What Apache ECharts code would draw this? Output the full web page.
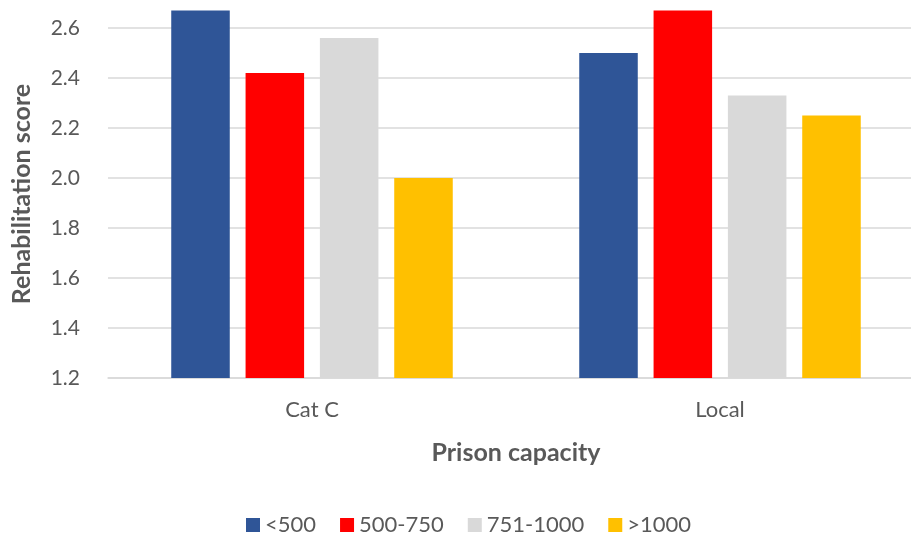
<!DOCTYPE html>
<html>
<head>
<meta charset="utf-8">
<script src="https://cdn.jsdelivr.net/npm/echarts@6/dist/echarts.min.js"></script>
<style>html,body{margin:0;padding:0;background:#fff}#c{width:911px;height:534px}</style>
</head>
<body>
<div id="c"></div>
<script>
const categories = ['Cat C', 'Local'];
const seriesNames = ['<500', '500-750', '751-1000', '>1000'];
const under500 = [2.67, 2.50];
const s500to750 = [2.42, 2.67];
const s751to1000 = [2.56, 2.33];
const over1000 = [2.00, 2.25];
const yTicks = [1.2, 1.4, 1.6, 1.8, 2.0, 2.2, 2.4, 2.6];

const colors = ['#2F5597', '#FF0000', '#D9D9D9', '#FFC000'];
const values = [under500, s500to750, s751to1000, over1000];
const font = 'Lato, "Open Sans", sans-serif';

const chart = echarts.init(document.getElementById('c'));
chart.setOption({
  animation: false,
  textStyle: { fontFamily: font },
  grid: { left: 108, top: 10, bottom: 156, right: -13, outerBoundsMode: 'none', containLabel: false },
  legend: {
    data: seriesNames,
    top: 509,
    left: 241,
    icon: 'rect',
    itemWidth: 14,
    itemHeight: 14,
    itemGap: 24,
    textStyle: { color: '#595959', fontSize: 22, fontFamily: font }
  },
  xAxis: {
    type: 'category',
    data: categories,
    name: 'Prison capacity',
    nameLocation: 'middle',
    nameGap: 62,
    nameTextStyle: { color: '#595959', fontSize: 25, fontWeight: 'bold', fontFamily: font },
    axisLine: { lineStyle: { color: '#D9D9D9', width: 1.5 } },
    axisTick: { show: false },
    axisLabel: { color: '#595959', fontSize: 22, margin: 21, fontFamily: font }
  },
  yAxis: {
    type: 'value',
    min: yTicks[0],
    max: 2.672,
    interval: 0.2,
    name: 'Rehabilitation score',
    nameLocation: 'middle',
    nameGap: 74,
    nameTextStyle: { color: '#595959', fontSize: 25, fontWeight: 'bold', fontFamily: font },
    axisLine: { show: false },
    axisTick: { show: false },
    axisLabel: {
      color: '#595959', fontSize: 21, margin: 28, fontFamily: font,
      showMaxLabel: false,
      formatter: v => yTicks.some(t => Math.abs(t - v) < 1e-6) ? v.toFixed(1) : ''
    },
    splitLine: { showMaxLine: false, lineStyle: { color: '#D9D9D9', width: 1.5 } }
  },
  series: seriesNames.map((n, i) => ({
    name: n,
    type: 'bar',
    data: values[i],
    barGap: '27%',
    barCategoryGap: '31%',
    itemStyle: { color: colors[i] }
  }))
});
</script>
</body>
</html>
